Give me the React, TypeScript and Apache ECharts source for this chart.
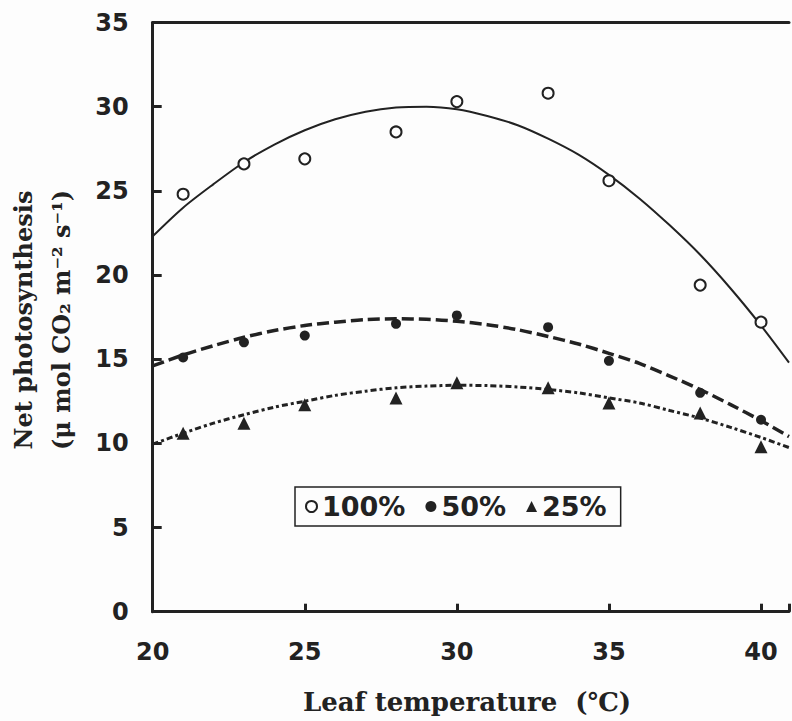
import React, { useEffect, useRef } from "react";
import * as echarts from "echarts";

// Measured leaf temperatures (°C)
const tempX = [21, 23, 25, 28, 30, 33, 35, 38, 40];
// Net photosynthesis observations
const obs100 = [24.8, 26.6, 26.9, 28.5, 30.3, 30.8, 25.6, 19.4, 17.2];
const obs50 = [15.1, 16.0, 16.4, 17.1, 17.6, 16.9, 14.9, 13.0, 11.4];
const obs25 = [10.6, 11.2, 12.3, 12.7, 13.6, 13.3, 12.4, 11.8, 9.8];

// Fitted curves at each degree
const fitX = [20, 21, 22, 23, 24, 25, 26, 27, 28, 29, 30, 31, 32, 33, 34, 35, 36, 37, 38, 39, 40, 40.92];
const fit100 = [22.3, 24.0, 25.4, 26.7, 27.75, 28.6, 29.25, 29.7, 29.95, 30.0, 29.85, 29.45, 28.9, 28.1, 27.15, 25.95, 24.55, 22.95, 21.2, 19.2, 17.0, 14.8];
const fit50 = [14.6, 15.25, 15.8, 16.3, 16.7, 17.0, 17.2, 17.35, 17.4, 17.37, 17.25, 17.05, 16.75, 16.35, 15.9, 15.35, 14.75, 14.0, 13.2, 12.3, 11.35, 10.4];
const fit25 = [9.95, 10.6, 11.2, 11.7, 12.15, 12.5, 12.85, 13.1, 13.3, 13.4, 13.45, 13.43, 13.35, 13.2, 13.0, 12.7, 12.4, 11.95, 11.5, 10.95, 10.35, 9.75];

const seriesNames = ["100%", "50%", "25%"];
const xTicks = [20, 25, 30, 35, 40];
const yTicks = [0, 5, 10, 15, 20, 25, 30, 35];

const INK = "#222222";

const pairs = (xs: number[], ys: number[]) => xs.map((x, i) => [x, ys[i]]);

export default function App() {
  const ref = useRef<HTMLDivElement>(null);

  useEffect(() => {
    if (!ref.current) return;
    const chart = echarts.init(ref.current, undefined, { renderer: "svg" });

    const labelFont = {
      fontFamily: "DejaVu Sans",
      fontWeight: "bold" as const,
      fontSize: 24,
      color: INK,
    };

    chart.setOption({
      animation: false,
      backgroundColor: "#fdfdfd",
      grid: { left: 152.7, top: 22.5, right: 0, bottom: 109.3, containLabel: false },
      xAxis: [
        {
          type: "value",
          min: 20,
          max: 40.92,
          interval: 5,
          axisLine: { show: true, onZero: false, lineStyle: { color: INK, width: 3 } },
          axisTick: { show: true, inside: true, length: 8, lineStyle: { color: INK, width: 3 } },
          axisLabel: {
            ...labelFont,
            margin: 28,
            formatter: (v: number) => (xTicks.includes(v) ? String(v) : ""),
          },
          splitLine: { show: false },
        },
        {
          type: "value",
          position: "top",
          min: 20,
          max: 40.92,
          axisLine: { show: true, onZero: false, lineStyle: { color: INK, width: 3 } },
          axisTick: { show: false },
          axisLabel: { show: false },
          splitLine: { show: false },
        },
      ],
      yAxis: {
        type: "value",
        min: 0,
        max: 35,
        interval: 5,
        axisLine: { show: true, onZero: false, lineStyle: { color: INK, width: 3 } },
        axisTick: { show: true, inside: true, length: 9, lineStyle: { color: INK, width: 3 } },
        axisLabel: {
          ...labelFont,
          margin: 24,
          formatter: (v: number) => (yTicks.includes(v) ? String(v) : ""),
        },
        splitLine: { show: false },
      },
      legend: {
        data: seriesNames,
        left: 295,
        top: 487,
        orient: "horizontal",
        borderColor: INK,
        borderWidth: 1.5,
        borderRadius: 0,
        padding: [6, 14, 6, 10],
        itemGap: 20,
        itemWidth: 11,
        itemHeight: 11,
        textStyle: {
          fontFamily: "DejaVu Sans",
          fontWeight: "bold",
          fontSize: 27,
          color: INK,
        },
      },
      graphic: [
        {
          type: "text",
          x: 23,
          y: 320,
          rotation: Math.PI / 2,
          style: {
            text: "Net photosynthesis",
            fontFamily: "DejaVu Serif",
            fontWeight: "bold",
            fontSize: 24,
            fill: INK,
            align: "center",
            verticalAlign: "middle",
          },
        },
        {
          type: "text",
          x: 61,
          y: 320,
          rotation: Math.PI / 2,
          style: {
            text: "(μ mol CO₂ m⁻² s⁻¹)",
            fontFamily: "DejaVu Serif",
            fontWeight: "bold",
            fontSize: 24,
            fill: INK,
            align: "center",
            verticalAlign: "middle",
          },
        },
        {
          type: "text",
          x: 467,
          y: 702,
          style: {
            text: "Leaf temperature  (℃)",
            fontFamily: "DejaVu Serif",
            fontWeight: "bold",
            fontSize: 26,
            fill: INK,
            align: "center",
            verticalAlign: "middle",
          },
        },
      ],
      series: [
        {
          name: "fit100",
          type: "line",
          data: pairs(fitX, fit100),
          smooth: 0.3,
          showSymbol: false,
          symbol: "none",
          lineStyle: { color: INK, width: 2, type: "solid" },
          silent: true,
          z: 2,
        },
        {
          name: "fit50",
          type: "line",
          data: pairs(fitX, fit50),
          smooth: 0.3,
          showSymbol: false,
          symbol: "none",
          lineStyle: { color: INK, width: 3.5, type: [12, 5] },
          silent: true,
          z: 2,
        },
        {
          name: "fit25",
          type: "line",
          data: pairs(fitX, fit25),
          smooth: 0.3,
          showSymbol: false,
          symbol: "none",
          lineStyle: { color: INK, width: 3, type: [6, 3, 3, 3] },
          silent: true,
          z: 2,
        },
        {
          name: seriesNames[0],
          type: "scatter",
          data: pairs(tempX, obs100),
          symbol: "emptyCircle",
          symbolSize: 11,
          itemStyle: { color: INK, borderColor: INK, borderWidth: 1.8, opacity: 1 },
          z: 3,
        },
        {
          name: seriesNames[1],
          type: "scatter",
          data: pairs(tempX, obs50),
          symbol: "circle",
          symbolSize: 10,
          itemStyle: { color: INK, opacity: 1 },
          z: 3,
        },
        {
          name: seriesNames[2],
          type: "scatter",
          data: pairs(tempX, obs25),
          symbol: "triangle",
          symbolSize: 13,
          itemStyle: { color: INK, opacity: 1 },
          z: 3,
        },
      ],
    });

    return () => chart.dispose();
  }, []);

  return (
    <div
      ref={ref}
      style={{ position: "fixed", left: 0, top: 0, width: 792, height: 721 }}
    />
  );
}
